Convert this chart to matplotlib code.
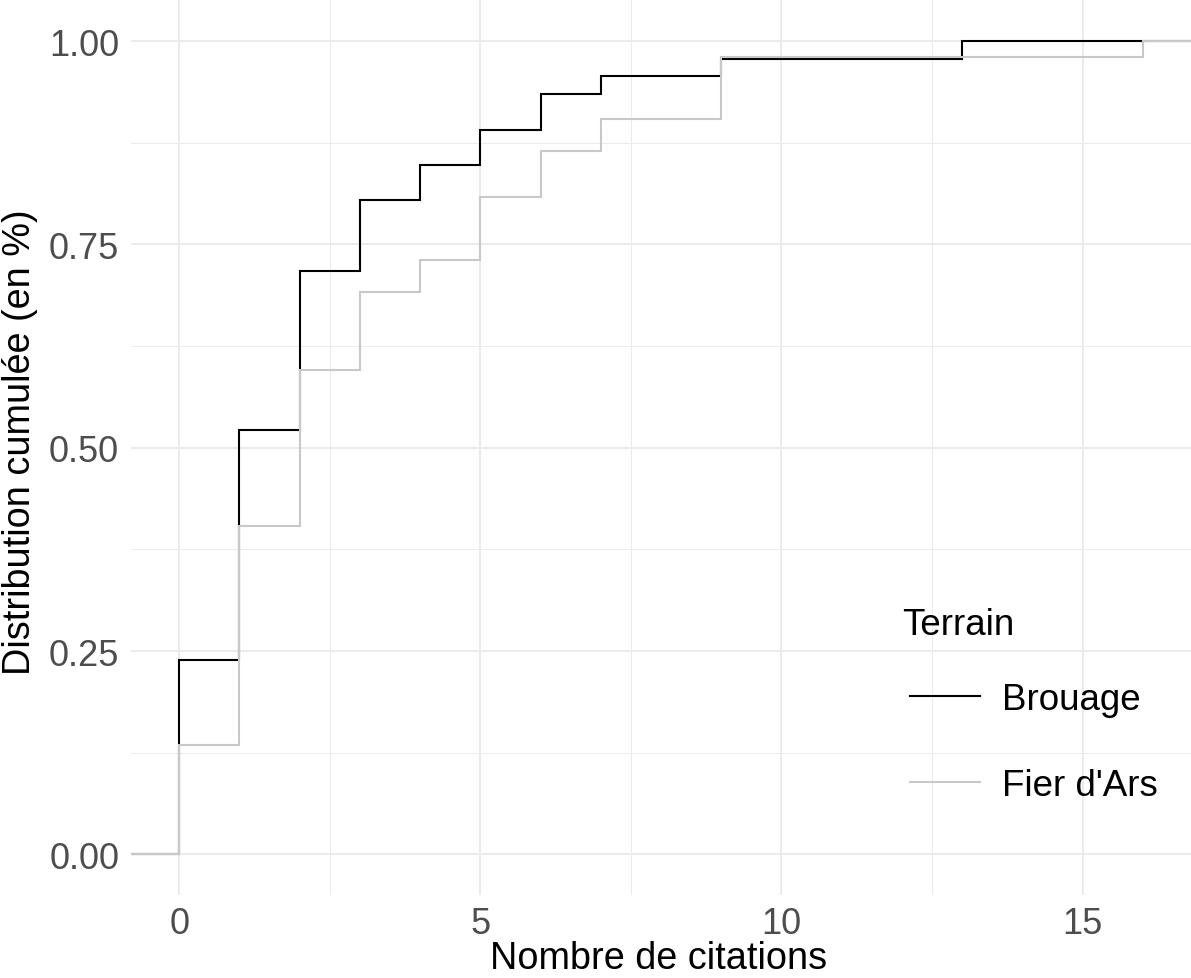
import matplotlib
matplotlib.use("Agg")
import matplotlib.pyplot as plt
import numpy as np

plt.rcParams['font.family'] = ['Liberation Sans', 'DejaVu Sans']

# ECDF data (step positions and cumulative proportions)
brouage_x = [0, 1, 2, 3, 4, 5, 6, 7, 9, 13]
brouage_y = [0.239, 0.522, 0.717, 0.804, 0.848, 0.891, 0.935, 0.957, 0.978, 1.000]
fier_x = [0, 1, 2, 3, 4, 5, 6, 7, 9, 16]
fier_y = [0.135, 0.404, 0.596, 0.692, 0.731, 0.808, 0.865, 0.904, 0.981, 1.000]
series = [("Brouage", brouage_x, brouage_y, "#000000"),
          ("Fier d'Ars", fier_x, fier_y, "#C8C8C8")]
legend_title = "Terrain"

xticks = [0, 5, 10, 15]
yticks = [0.00, 0.25, 0.50, 0.75, 1.00]
ytick_labels = ["0.00", "0.25", "0.50", "0.75", "1.00"]

W, H = 1191, 979
fig = plt.figure(figsize=(W/100, H/100), dpi=100)
ax = fig.add_axes([131/W, 1 - 896/H, 1 - 131/W, (896 - 1.4)/H])

xlo, xhi = -0.8, 16.8
ax.set_xlim(xlo, xhi)
ax.set_ylim(-0.05, 1.05)

for name, xs, ys, col in series:
    xx = [xlo - 1] + list(xs) + [xhi + 1]
    yy = [0.0] + list(ys) + [ys[-1]]
    ax.step(xx, yy, where='post', color=col, lw=1.5, label=name, solid_joinstyle='miter')

ax.set_xticks(xticks)
ax.set_xticks([2.5, 7.5, 12.5], minor=True)
ax.set_yticks(yticks)
ax.set_yticklabels(ytick_labels)
ax.set_yticks([0.125, 0.375, 0.625, 0.875], minor=True)
ax.grid(which='major', color='#EBEBEB', lw=1.4)
ax.grid(which='minor', color='#EBEBEB', lw=0.7)
ax.set_axisbelow(True)
for s in ax.spines.values():
    s.set_visible(False)
ax.tick_params(which='both', length=0, labelsize=26, labelcolor='#4D4D4D')
ax.tick_params(axis='y', pad=8.5)
ax.tick_params(axis='x', pad=8)

ax.set_xlabel("Nombre de citations", fontsize=27.3)
ax.set_ylabel("Distribution cumulée (en %)", fontsize=27.3)
ax.xaxis.set_label_coords((658 - 131) / 1059, (896 - 941) / 894.6)
ax.yaxis.set_label_coords((38 - 131) / 1059, (896 - 442) / 894.6)

leg = ax.legend(loc='upper left', bbox_to_anchor=(910/W, 1 - 683/H),
                bbox_transform=fig.transFigure, frameon=False, fontsize=26.5,
                handlelength=70/36.8, handletextpad=22/36.8, labelspacing=1.39,
                borderpad=0, borderaxespad=0)
fig.text(902/W, 1 - 635/H, legend_title, fontsize=26.5, ha='left', va='baseline')

fig.savefig("out.png", dpi=100)
